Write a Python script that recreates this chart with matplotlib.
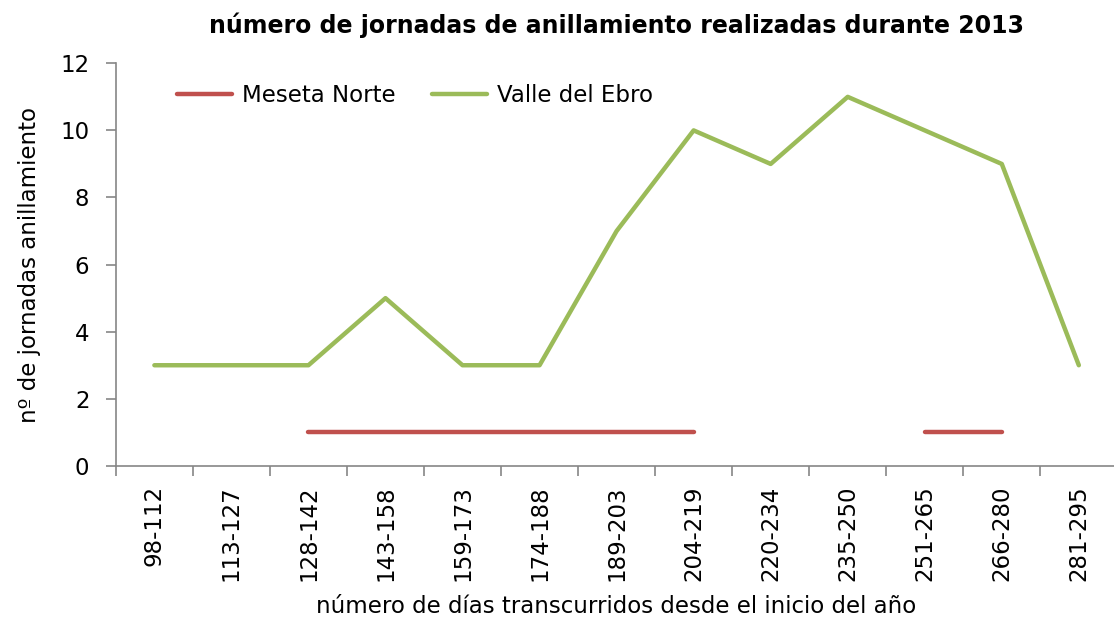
import numpy as np
import matplotlib.pyplot as plt

categories = ["98-112", "113-127", "128-142", "143-158", "159-173", "174-188",
              "189-203", "204-219", "220-234", "235-250", "251-265", "266-280",
              "281-295"]
meseta_norte = [np.nan, np.nan, 1, 1, 1, 1, 1, 1, np.nan, np.nan, 1, 1, np.nan]
valle_ebro = [3, 3, 3, 5, 3, 3, 7, 10, 9, 11, 10, 9, 3]

plt.rcParams['font.family'] = 'DejaVu Sans'

fig = plt.figure(figsize=(11.14, 6.33), dpi=100)
ax = fig.add_axes([0.104, 0.264, 0.899, 0.636])

x = np.arange(len(categories))
ax.plot(x, meseta_norte, color='#C0504D', lw=3.2, solid_capstyle='round', label='Meseta Norte')
ax.plot(x, valle_ebro, color='#9BBB59', lw=3.2, solid_capstyle='round', label='Valle del Ebro')

ax.set_xlim(-0.5, len(categories) - 0.5)
ax.set_ylim(0, 12)
ax.set_yticks(range(0, 13, 2))
ax.set_xticks(x)
ax.set_xticklabels(categories, rotation=90, fontsize=16.5)
ax.set_xticks(np.arange(-0.5, len(categories), 1), minor=True)
ax.tick_params(axis='x', which='major', length=0, pad=14)
ax.tick_params(axis='x', which='minor', length=7, color='#868686', width=1.2)
ax.tick_params(axis='y', labelsize=16.5, length=7, color='#868686', width=1.2, pad=12)

for side in ['top', 'right']:
    ax.spines[side].set_visible(False)
for side in ['left', 'bottom']:
    ax.spines[side].set_color('#868686')
    ax.spines[side].set_linewidth(1.2)

ax.set_ylabel('nº de jornadas anillamiento', fontsize=16.5, labelpad=14)
ax.set_xlabel('número de días transcurridos desde el inicio del año', fontsize=16.5, labelpad=10)
ax.set_title('número de jornadas de anillamiento realizadas durante 2013',
             fontsize=17, fontweight='bold', pad=22)

ax.legend(loc='upper left', ncol=2, frameon=False, fontsize=16.5,
          handlelength=2.4, handletextpad=0.45, columnspacing=1.6,
          bbox_to_anchor=(0.04, 1.0))

fig.savefig('out.png', dpi=100)
